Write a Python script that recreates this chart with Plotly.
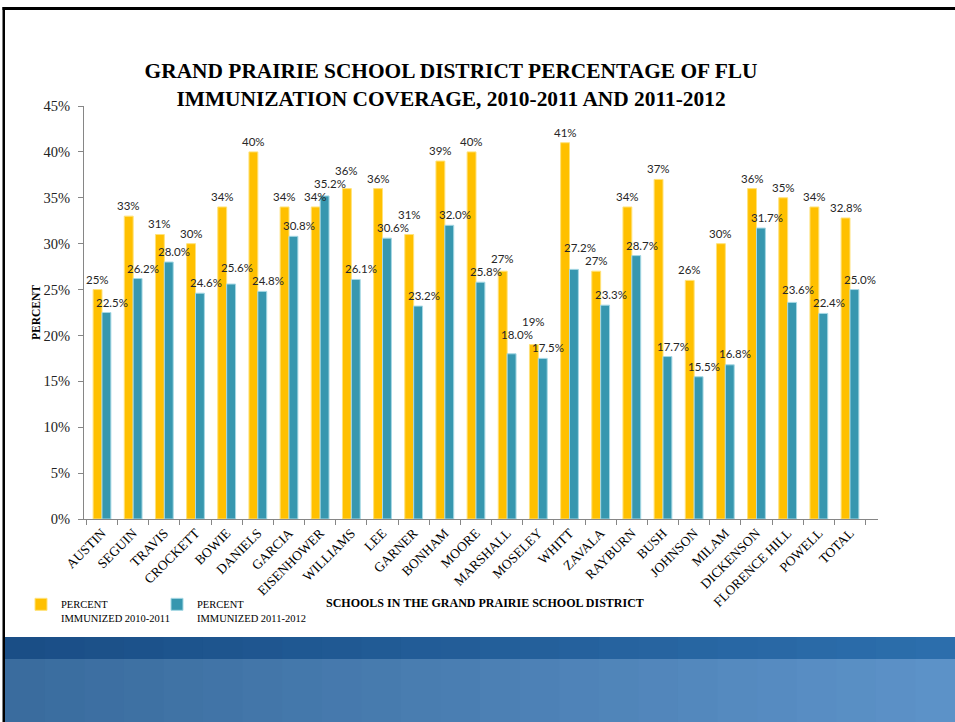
import plotly.graph_objects as go

schools = ["AUSTIN", "SEGUIN", "TRAVIS", "CROCKETT", "BOWIE", "DANIELS", "GARCIA",
           "EISENHOWER", "WILLIAMS", "LEE", "GARNER", "BONHAM", "MOORE", "MARSHALL",
           "MOSELEY", "WHITT", "ZAVALA", "RAYBURN", "BUSH", "JOHNSON", "MILAM",
           "DICKENSON", "FLORENCE HILL", "POWELL", "TOTAL"]
pct_2010_2011 = [25, 33, 31, 30, 34, 40, 34, 34, 36, 36, 31, 39, 40, 27, 19, 41, 27,
                 34, 37, 26, 30, 36, 35, 34, 32.8]
pct_2011_2012 = [22.5, 26.2, 28.0, 24.6, 25.6, 24.8, 30.8, 35.2, 26.1, 30.6, 23.2, 32.0,
                 25.8, 18.0, 17.5, 27.2, 23.3, 28.7, 17.7, 15.5, 16.8, 31.7, 23.6, 22.4, 25.0]
y_tick_vals = [0, 5, 10, 15, 20, 25, 30, 35, 40, 45]
y_tick_text = [f"{v}%" for v in y_tick_vals]
series_names = ["PERCENT<br>IMMUNIZED 2010-2011", "PERCENT<br>IMMUNIZED 2011-2012"]

W, H = 955, 722
ML, MR, MT, MB = 84, 77, 106, 203
PW, PH = W - ML - MR, H - MT - MB
Y_MAX = 45


def px(x):
    return (x - ML) / PW


def py(y):
    return (H - MB - y) / PH


YELLOW = "#FFC000"
TEAL = "#3797AF"
SERIF = "Liberation Serif"
LABEL_SIZE = 11.5
LABEL_FONT = dict(family="Lato", size=LABEL_SIZE, color="#262626")


def fmt_a(v):
    return f"{v:.0f}%" if float(v).is_integer() else f"{v:.1f}%"


fig = go.Figure()
fig.add_trace(go.Bar(x=schools, y=pct_2010_2011, name=series_names[0], legend="legend",
                     marker=dict(color=YELLOW, line=dict(color="#FFE27A", width=1))))
fig.add_trace(go.Bar(x=schools, y=pct_2011_2012, name=series_names[1], legend="legend2",
                     marker=dict(color=TEAL, line=dict(color="#A6D8E4", width=1))))

# ---- data labels with a simple collision avoidance (pixel estimates from the axis scale)
cat_w = PW / len(schools)


def text_w(t):
    w = 0
    for ch in t:
        w += 0.58 if ch.isdigit() else (0.27 if ch == "." else 0.82)
    return w * LABEL_SIZE


labels = []
for i, (s, v) in enumerate(zip(schools, pct_2010_2011)):
    labels.append(dict(x=s, y=v, text=fmt_a(v), xshift=-4.5,
                       cx=(i + 0.5) * cat_w - 4.5))
for i, (s, v) in enumerate(zip(schools, pct_2011_2012)):
    labels.append(dict(x=s, y=v, text=f"{v:.1f}%", xshift=10,
                       cx=(i + 0.5) * cat_w + 10))
BASE_SHIFT = 3
LBL_H = 13
for lb in labels:
    lb["bottom"] = PH - lb["y"] / Y_MAX * PH - BASE_SHIFT
    lb["w"] = text_w(lb["text"])
placed = []
for lb in sorted(labels, key=lambda d: -d["bottom"]):
    moved = True
    while moved:
        moved = False
        for o in placed:
            if abs(lb["cx"] - o["cx"]) < (lb["w"] + o["w"]) / 2 + 1:
                if lb["bottom"] > o["bottom"] - LBL_H and lb["bottom"] - LBL_H < o["bottom"]:
                    lb["bottom"] = o["bottom"] - LBL_H
                    moved = True
    placed.append(lb)

annotations = []
for lb in labels:
    natural = PH - lb["y"] / Y_MAX * PH
    annotations.append(dict(x=lb["x"], y=lb["y"], xref="x", yref="y", text=lb["text"],
                            showarrow=False, yanchor="bottom",
                            yshift=natural - lb["bottom"] - 1, xshift=lb["xshift"],
                            font=LABEL_FONT))

annotations.append(dict(x=px(485), y=py(603), xref="paper", yref="paper",
                        text="<b>SCHOOLS IN THE GRAND PRAIRIE SCHOOL DISTRICT</b>",
                        showarrow=False, xanchor="center", yanchor="middle",
                        font=dict(family=SERIF, size=12, color="#000")))

shapes = []
# blue band at the bottom (slide background)
cols = 24
top_left, top_right = (26, 78, 134), (44, 110, 172)
bot_left, bot_right = (58, 108, 158), (92, 146, 200)


def lerp(a, b, t):
    return tuple(int(round(a[i] + (b[i] - a[i]) * t)) for i in range(3))


x_start, x_end = 5, W
for i in range(cols):
    t = i / (cols - 1)
    xa = x_start + (x_end - x_start) * i / cols
    xb = x_start + (x_end - x_start) * (i + 1) / cols + 1
    c1 = lerp(top_left, top_right, t)
    c2 = lerp(bot_left, bot_right, t)
    shapes.append(dict(type="rect", xref="paper", yref="paper", x0=px(xa), x1=px(xb),
                       y0=py(659), y1=py(637), line=dict(width=0),
                       fillcolor="rgb(%d,%d,%d)" % c1, layer="below"))
    shapes.append(dict(type="rect", xref="paper", yref="paper", x0=px(xa), x1=px(xb),
                       y0=py(H + 2), y1=py(659), line=dict(width=0),
                       fillcolor="rgb(%d,%d,%d)" % c2, layer="below"))
# black frame top and left
shapes.append(dict(type="rect", xref="paper", yref="paper", x0=px(2.5), x1=px(W + 2),
                   y0=py(10), y1=py(7), line=dict(width=0), fillcolor="#000"))
shapes.append(dict(type="rect", xref="paper", yref="paper", x0=px(2.5), x1=px(5),
                   y0=py(H + 2), y1=py(7), line=dict(width=0), fillcolor="#000"))

legend_style = dict(orientation="h", xanchor="left", yanchor="top", valign="top",
                    font=dict(family=SERIF, size=10.5, color="#000"),
                    bgcolor="rgba(0,0,0,0)", itemwidth=30)

fig.update_layout(
    width=W, height=H,
    margin=dict(l=ML, r=MR, t=MT, b=MB),
    paper_bgcolor="white", plot_bgcolor="white",
    barmode="group", bargap=0.43, bargroupgap=0,
    title=dict(text="<b>GRAND PRAIRIE SCHOOL DISTRICT PERCENTAGE OF FLU<br>"
                    "IMMUNIZATION COVERAGE, 2010-2011 AND 2011-2012</b>",
               x=451 / W, xanchor="center", xref="container",
               y=1 - 78 / H, yanchor="top", yref="container",
               font=dict(family=SERIF, size=21.4, color="#000")),
    xaxis=dict(showline=True, linecolor="#868686", linewidth=1, ticks="outside",
               tickson="boundaries", ticklen=5, tickcolor="#868686", tickangle=-45,
               tickfont=dict(family=SERIF, size=13.5, color="#000"), showgrid=False),
    yaxis=dict(range=[0, Y_MAX], tickvals=y_tick_vals, ticktext=y_tick_text,
               showline=True, linecolor="#868686", linewidth=1, ticks="outside",
               ticklen=5, tickcolor="#868686", showgrid=False, zeroline=False,
               ticklabelstandoff=5,
               tickfont=dict(family=SERIF, size=14.5, color="#222"),
               title=dict(text="<b>PERCENT</b>", standoff=0,
                          font=dict(family=SERIF, size=11.5, color="#000"))),
    legend=dict(x=px(21), y=py(591), **legend_style),
    legend2=dict(x=px(157), y=py(591), **legend_style),
    annotations=annotations,
    shapes=shapes,
    showlegend=True,
)

fig.write_html("out.html", config={"displayModeBar": False},
               post_script="document.body.style.margin='0';")
